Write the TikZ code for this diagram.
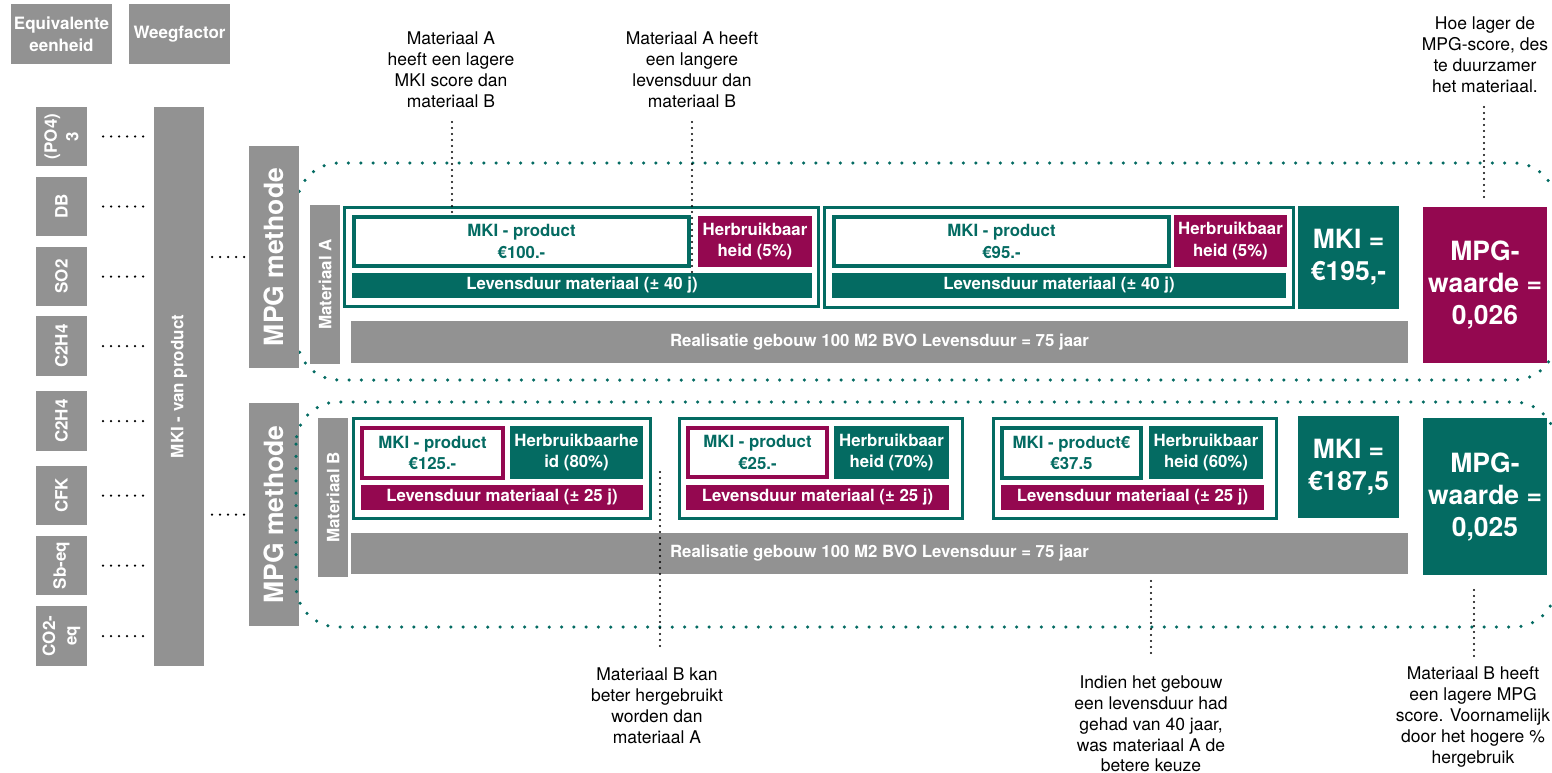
\documentclass[tikz,border=0pt]{standalone}
\usepackage{fontspec}
\setmainfont{TeX Gyre Heros}
\definecolor{teal1}{RGB}{4,107,98}
\definecolor{mag}{RGB}{148,8,80}
\definecolor{gry}{RGB}{146,146,146}
\newcommand{\fHdr}{\bfseries\fontsize{17}{21.5}\selectfont}
\newcommand{\fBox}{\bfseries\fontsize{16.8}{21.5}\selectfont}
\newcommand{\fBig}{\bfseries\fontsize{26.5}{32}\selectfont}
\newcommand{\fMpg}{\bfseries\fontsize{26.5}{30}\selectfont}
\newcommand{\fAnn}{\fontsize{17.5}{21}\selectfont}
\newcommand{\fAnnB}{\fontsize{17.5}{20.75}\selectfont}
\tikzset{
 gbox/.style={fill=gry, text=white, inner sep=0pt, outer sep=0pt, anchor=north west, font=\fHdr, align=center},
 gbar/.style={fill=gry, text=white, inner sep=0pt, outer sep=0pt, anchor=north west, font=\fBox, align=center},
 tbox/.style={fill=teal1, text=white, inner sep=0pt, outer sep=0pt, anchor=north west, font=\fBox, align=center},
 mbox/.style={fill=mag, text=white, inner sep=0pt, outer sep=0pt, anchor=north west, font=\fBox, align=center},
 bigbox/.style={text=white, inner sep=0pt, outer sep=0pt, anchor=north west, font=\fBig, align=center},
 frame/.style={draw=teal1, line width=3pt, fill=white, inner sep=0pt, outer sep=0pt, anchor=north west},
 mkit/.style={draw=teal1, line width=4pt, fill=white, text=teal1, font=\fBox, align=center, inner sep=0pt, outer sep=0pt, anchor=north west},
 mkim/.style={mkit, draw=mag},
 rtext/.style={rotate=90, text=white, align=center, inner sep=0pt},
 ann/.style={font=\fAnn, align=center, inner sep=0pt, text=black},
 tdots/.style={draw=teal1, line width=3.5pt, line cap=round, dash pattern=on 0pt off 12.3pt},
 bdots/.style={draw=black, line width=2.2pt, line cap=round, dash pattern=on 0pt off 6pt},
 ldots/.style={draw=black, line width=2.5pt, line cap=round, dash pattern=on 0pt off 8pt},
}
\begin{document}
\begin{tikzpicture}[x=1pt,y=-1pt]
\useasboundingbox (0,0) rectangle (1552,773);

% dotted group A (under the MPG methode box)
\draw[tdots, rounded corners=42pt] (297,163) rectangle (1556,380);

% header
\node[gbox, minimum width=101pt, minimum height=60pt] (eq) at (11,4) {Equivalente\\eenheid};
\node[gbox, minimum width=101pt, minimum height=60pt] (wf) at (129,4) {Weegfactor};

% left units
\node[gbox, minimum width=51pt, minimum height=59pt] (po) at (36,107) {};
\node[gbox, minimum width=51pt, minimum height=59pt] (db) at (36,177) {};
\node[gbox, minimum width=51pt, minimum height=59pt] (so) at (36,247) {};
\node[gbox, minimum width=51pt, minimum height=60pt] (ca) at (36,316) {};
\node[gbox, minimum width=51pt, minimum height=60pt] (cb) at (36,391) {};
\node[gbox, minimum width=51pt, minimum height=59pt] (cfk) at (36,466) {};
\node[gbox, minimum width=51pt, minimum height=59pt] (sb) at (36,536) {};
\node[gbox, minimum width=51pt, minimum height=60pt] (co) at (36,606) {};
\node[rtext, font=\fHdr] (poT) at (po.center) {(PO4)\\3};
\node[rtext, font=\fHdr] (dbT) at (db.center) {DB};
\node[rtext, font=\fHdr] (soT) at (so.center) {SO2};
\node[rtext, font=\fHdr] (caT) at (ca.center) {C2H4};
\node[rtext, font=\fHdr] (cbT) at (cb.center) {C2H4};
\node[rtext, font=\fHdr] (cfkT) at (cfk.center) {CFK};
\node[rtext, font=\fHdr] (sbT) at (sb.center) {Sb-eq};
\node[rtext, font=\fHdr] (coT) at (co.center) {CO2-\\eq};

% MKI van product
\node[gbox, minimum width=50pt, minimum height=559pt] (mki) at (154,107) {};
\node[rtext, font=\fHdr] (mkiT) at (mki.center) {MKI - van product};

% MPG methode boxes
\node[gbox, minimum width=50pt, minimum height=222pt] (mpgA) at (249,146) {};
\node[rtext, font=\fMpg] (mpgAT) at (mpgA.center) {MPG methode};
\node[gbox, minimum width=50pt, minimum height=223pt] (mpgB) at (249,403) {};
\node[rtext, font=\fMpg] (mpgBT) at (mpgB.center) {MPG methode};

% Materiaal labels
\node[gbox, minimum width=30pt, minimum height=159pt] (matA) at (310,205) {};
\node[rtext, font=\fHdr] (matAT) at (matA.center) {Materiaal A};
\node[gbox, minimum width=30pt, minimum height=159pt] (matB) at (318,418) {};
\node[rtext, font=\fHdr] (matBT) at (matB.center) {Materiaal B};

% ---------------- Row A ----------------
\node[frame, minimum width=474pt, minimum height=99pt] (a1f) at (344.5,207.5) {};
\node[mkit, minimum width=335pt, minimum height=49pt] (a1m) at (354,217) {MKI - product\\€100.-};
\node[mbox, minimum width=114pt, minimum height=51pt] (a1h) at (698,216) {Herbruikbaar\\heid (5\%)};
\node[tbox, minimum width=460pt, minimum height=25pt] (a1l) at (352,273) {Levensduur materiaal (± 40 j)};

\node[frame, minimum width=469pt, minimum height=100pt] (a2f) at (824.5,207.5) {};
\node[mkit, minimum width=335pt, minimum height=49pt] (a2m) at (834,217) {MKI - product\\€95.-};
\node[mbox, minimum width=113pt, minimum height=52pt] (a2h) at (1174,215) {Herbruikbaar\\heid (5\%)};
\node[tbox, minimum width=454pt, minimum height=25pt] (a2l) at (832,273) {Levensduur materiaal (± 40 j)};

\node[bigbox, fill=teal1, minimum width=101pt, minimum height=103pt] (mkiA) at (1298,206) {MKI =\\€195,-};
\node[gbar, minimum width=1057pt, minimum height=42pt] (realA) at (351,321) {Realisatie gebouw 100 M2 BVO Levensduur = 75 jaar};
\node[bigbox, fill=mag, minimum width=124pt, minimum height=156pt] (mpgvA) at (1423,207) {MPG-\\waarde =\\0,026};

% ---------------- Row B ----------------
\node[frame, minimum width=297pt, minimum height=100pt] (b1f) at (353.5,418.5) {};
\node[mkim, minimum width=141pt, minimum height=50pt] (b1m) at (362,428) {MKI - product\\€125.-};
\node[tbox, minimum width=133pt, minimum height=53pt] (b1h) at (510,426) {Herbruikbaarhe\\id (80\%)};
\node[mbox, minimum width=282pt, minimum height=25pt] (b1l) at (361,485) {Levensduur materiaal (± 25 j)};

\node[frame, minimum width=283pt, minimum height=100pt] (b2f) at (679.5,418.5) {};
\node[mkim, minimum width=139pt, minimum height=49pt] (b2m) at (688,428) {MKI - product\\€25.-};
\node[tbox, minimum width=115pt, minimum height=53pt] (b2h) at (834,426) {Herbruikbaar\\heid (70\%)};
\node[mbox, minimum width=263pt, minimum height=25pt] (b2l) at (686,485) {Levensduur materiaal (± 25 j)};

\node[frame, minimum width=283pt, minimum height=100pt] (b3f) at (993.5,418.5) {};
\node[mkit, minimum width=139pt, minimum height=50pt] (b3m) at (1002,428) {MKI - product€\\€37.5};
\node[tbox, minimum width=114pt, minimum height=53pt] (b3h) at (1149,426) {Herbruikbaar\\heid (60\%)};
\node[mbox, minimum width=263pt, minimum height=25pt] (b3l) at (1001,485) {Levensduur materiaal (± 25 j)};

\node[bigbox, fill=teal1, minimum width=101pt, minimum height=102pt] (mkiB) at (1298,416) {MKI =\\€187,5};
\node[gbar, minimum width=1057pt, minimum height=41pt] (realB) at (351,533) {Realisatie gebouw 100 M2 BVO Levensduur = 75 jaar};
\node[bigbox, fill=teal1, minimum width=124pt, minimum height=157pt] (mpgvB) at (1423,418) {MPG-\\waarde =\\0,025};

% dotted group B (on top)
\draw[tdots, rounded corners=42pt] (296,402) rectangle (1556,627);

% left dotted connectors
\foreach \n in {po,db,so,ca,cb,cfk,sb,co}{
  \draw[ldots, shorten <=16pt, shorten >=11pt] (\n.east) -- (\n.east -| mki.west);
}
\draw[ldots, shorten <=8pt] (mpgA.west -| mki.east) -- (mpgA.west);
\draw[ldots, shorten <=8pt, shorten >=4pt] (mpgB.west -| mki.east) -- (mpgB.west);

% annotations
\node[ann] (n1) at (451,70) {Materiaal A\\heeft een lagere\\MKI score dan\\materiaal B};
\node[ann] (n2) at (692,70) {Materiaal A heeft\\een langere\\levensduur dan\\materiaal B};
\node[ann] (n3) at (1485,55) {Hoe lager de\\MPG-score, des\\te duurzamer\\het materiaal.};
\node[ann] (n4) at (657,706) {Materiaal B kan\\beter hergebruikt\\worden dan\\materiaal A};
\node[ann, font=\fAnnB] (n5) at (1151,724) {Indien het gebouw\\een levensduur had\\gehad van 40 jaar,\\was materiaal A de\\betere keuze};
\node[ann] (n6) at (1473,717) {Materiaal B heeft\\een lagere MPG\\score. Voornamelijk\\door het hogere \%\\hergebruik};

\coordinate (c1) at (452,122);
\coordinate (c2) at (692,122);
\coordinate (c3) at (1484,107);
\coordinate (c4a) at (660,472);
\coordinate (c4b) at (660,646);
\coordinate (c5a) at (1151,581);
\coordinate (c5b) at (1151,656);
\coordinate (c6a) at (1474,590);
\coordinate (c6b) at (1474,656);

\draw[bdots] (c1) -- (c1 |- a1m.north);
\draw[bdots] (c2) -- (c2 |- a1l.north);
\draw[bdots, shorten >=9pt] (c3) -- (c3 |- mpgvA.north);
\draw[bdots] (c4a) -- (c4b);
\draw[bdots] (c5a) -- (c5b);
\draw[bdots] (c6a) -- (c6b);
\end{tikzpicture}
\end{document}
